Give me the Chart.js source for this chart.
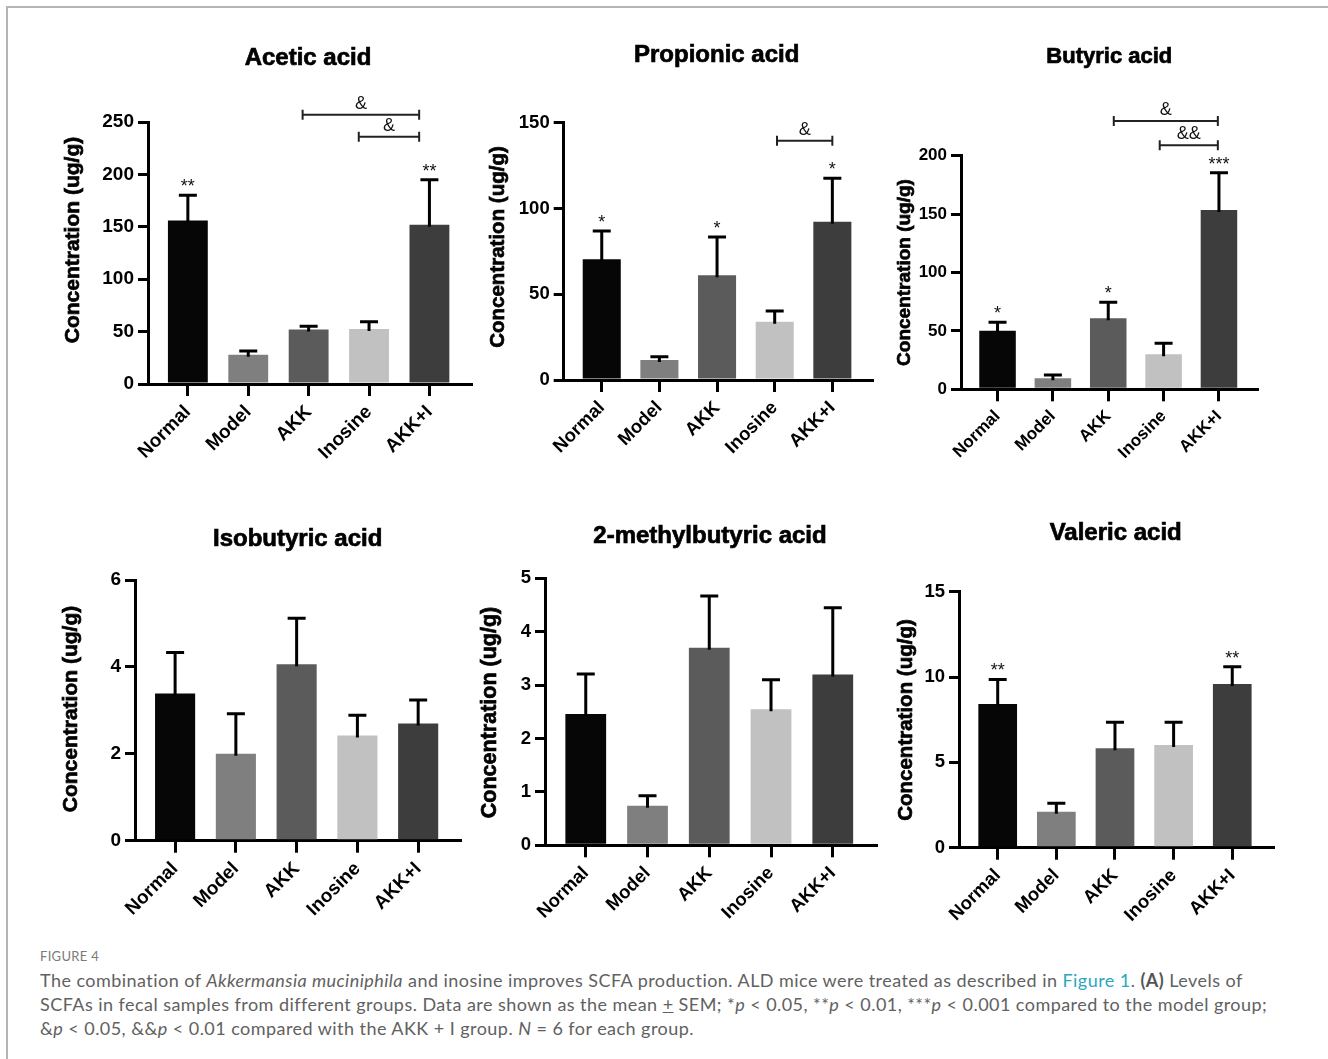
<!DOCTYPE html>
<html>
<head>
<meta charset="utf-8">
<title>SCFA production</title>
<script src="https://cdn.jsdelivr.net/npm/chart.js@4.4.1/dist/chart.umd.min.js"></script>
<style>
  html, body { margin: 0; padding: 0; background: #fff; }
  #figure { position: relative; width: 1328px; height: 1059px; overflow: hidden; }
  #frame { position: absolute; left: 6px; top: 6px; width: 1330px; height: 1060px;
           border-top: 2px solid #b4b4b4; border-left: 2px solid #b4b4b4; }
  canvas { position: absolute; }
  #figlabel { position: absolute; left: 40px; top: 948px; font-family: Lato, "Open Sans", sans-serif;
              font-size: 13px; color: #7a7a7a; letter-spacing: 0.3px; }
  #caption { position: absolute; left: 40px; top: 968px; font-family: Lato, "Open Sans", sans-serif;
             font-size: 18px; letter-spacing: 0.45px; line-height: 24px; color: #616161; white-space: nowrap; }
  #caption .link { color: #2ba7bd; }
  #caption b { color: #555; }
</style>
</head>
<body>
<div id="figure">
  <div id="frame"></div>
  <div id="figlabel">FIGURE 4</div>
  <div id="caption">The combination of <i>Akkermansia muciniphila</i> and inosine improves SCFA production. ALD mice were treated as described in <span class="link">Figure 1</span>. <b>(A)</b> Levels of<br>SCFAs in fecal samples from different groups. Data are shown as the mean <u>+</u> SEM; *<i>p</i> &lt; 0.05, **<i>p</i> &lt; 0.01, ***<i>p</i> &lt; 0.001 compared to the model group;<br>&amp;<i>p</i> &lt; 0.05, &amp;&amp;<i>p</i> &lt; 0.01 compared with the AKK + I group. <i>N</i> = 6 for each group.</div>
</div>
<script>
// groups on the x axis
var groups = ['Normal', 'Model', 'AKK', 'Inosine', 'AKK+I'];
var barColors = ['#060606', '#7f7f7f', '#5b5b5b', '#c1c1c1', '#3d3d3d'];

// mean and SEM (ug/g)
var aceticMean = [156, 28, 52, 52.5, 152];
var aceticSem = [24, 3.5, 3, 7, 43];
var aceticStars = ['**', '', '', '', '**'];
var aceticBrackets = [[1.9, 3.83, 257, '&'], [2.83, 3.83, 236, '&']];

var propionicMean = [70.4, 11.7, 61, 34, 92.3];
var propionicSem = [16.5, 1.9, 22.4, 6.2, 25.3];
var propionicStars = ['*', '', '*', '', '*'];
var propionicBrackets = [[3.04, 4.0, 139.5, '&']];

var butyricMean = [50.2, 9.4, 60.8, 30, 153.5];
var butyricSem = [7.2, 2.8, 13.7, 9.4, 32];
var butyricStars = ['*', '', '*', '', '***'];
var butyricBrackets = [[2.1, 3.98, 229.7, '&'], [2.93, 3.98, 208.9, '&&']];

var isobutyricMean = [3.39, 2.0, 4.06, 2.42, 2.70];
var isobutyricSem = [0.94, 0.92, 1.06, 0.47, 0.54];

var methylbutyricMean = [2.46, 0.74, 3.70, 2.55, 3.20];
var methylbutyricSem = [0.75, 0.19, 0.97, 0.55, 1.25];

var valericMean = [8.42, 2.11, 5.82, 6.02, 9.59];
var valericSem = [1.44, 0.49, 1.53, 1.33, 1.01];
var valericStars = ['**', '', '', '', '**'];

var FONT = '"Liberation Sans", Arial, Helvetica, sans-serif';
var yLabel = 'Concentration (ug/g)';

// panel layout (page pixels)
var panels = [
  { title: 'Acetic acid', mean: aceticMean, sem: aceticSem, stars: aceticStars, brackets: aceticBrackets,
    yMax: 250, step: 50, box: [10, 20, 466, 465], axisX: 148, axisEnd: 471.7, yTop: 122, yZero: 384,
    titlePos: [308, 58], titleSize: 24, yTitlePos: [73, 240], yTitleSize: 21, tickSize: 19 },
  { title: 'Propionic acid', mean: propionicMean, sem: propionicSem, stars: propionicStars, brackets: propionicBrackets,
    yMax: 150, step: 50, box: [476, 20, 414, 465], axisX: 563.7, axisEnd: 872.7, yTop: 122.7, yZero: 380,
    titlePos: [716.7, 55], titleSize: 24, yTitlePos: [498, 247], yTitleSize: 20.5, tickSize: 18.5 },
  { title: 'Butyric acid', mean: butyricMean, sem: butyricSem, stars: butyricStars, brackets: butyricBrackets,
    yMax: 200, step: 50, box: [890, 20, 430, 465], axisX: 961, axisEnd: 1257.7, yTop: 155.7, yZero: 389.3,
    titlePos: [1109.3, 57.3], titleSize: 22, yTitlePos: [905, 272.5], yTitleSize: 19, tickSize: 17 },
  { title: 'Isobutyric acid', mean: isobutyricMean, sem: isobutyricSem, stars: [], brackets: [],
    yMax: 6, step: 2, box: [10, 495, 466, 445], axisX: 135, axisEnd: 460.7, yTop: 580, yZero: 840.7,
    titlePos: [297.7, 539.3], titleSize: 24, yTitlePos: [71.7, 709], yTitleSize: 21, tickSize: 19 },
  { title: '2-methylbutyric acid', mean: methylbutyricMean, sem: methylbutyricSem, stars: [], brackets: [],
    yMax: 5, step: 1, box: [476, 495, 414, 445], axisX: 545, axisEnd: 876, yTop: 578.3, yZero: 845.3,
    titlePos: [710, 536.7], titleSize: 24, yTitlePos: [490, 712.5], yTitleSize: 21.5, tickSize: 18.5 },
  { title: 'Valeric acid', mean: valericMean, sem: valericSem, stars: valericStars, brackets: [],
    yMax: 15, step: 5, box: [890, 495, 430, 445], axisX: 959, axisEnd: 1273.3, yTop: 591.7, yZero: 847.7,
    titlePos: [1115.7, 533.3], titleSize: 24, yTitlePos: [906.7, 720], yTitleSize: 20.5, tickSize: 18.5 }
];

// bold text drawn a little heavier, like the GraphPad export
function heavyText(ctx, text, x, y) {
  ctx.lineWidth = 0.7;
  ctx.strokeStyle = '#000';
  ctx.strokeText(text, x, y);
  ctx.fillText(text, x, y);
}

// titles, error bars, stars and comparison brackets
function extrasPlugin(p) {
  var cl = p.box[0], ct = p.box[1];
  return {
    id: 'extras',
    afterDraw: function(chart) {
      var ctx = chart.ctx;
      var xs = chart.scales.x, ys = chart.scales.y;
      var bars = chart.getDatasetMeta(0).data;
      ctx.save();

      // panel title
      ctx.fillStyle = '#000';
      ctx.font = 'bold ' + p.titleSize + 'px ' + FONT;
      ctx.textAlign = 'center';
      ctx.textBaseline = 'middle';
      heavyText(ctx, p.title, p.titlePos[0] - cl, p.titlePos[1] - ct);

      // y axis title
      ctx.save();
      ctx.translate(p.yTitlePos[0] - cl, p.yTitlePos[1] - ct);
      ctx.rotate(-Math.PI / 2);
      ctx.font = 'bold ' + p.yTitleSize + 'px ' + FONT;
      heavyText(ctx, yLabel, 0, 0);
      ctx.restore();

      // error bars (upper only)
      ctx.strokeStyle = '#000';
      ctx.lineWidth = 3;
      for (var i = 0; i < bars.length; i++) {
        var x = bars[i].x;
        var yMean = ys.getPixelForValue(p.mean[i]);
        var yErr = ys.getPixelForValue(p.mean[i] + p.sem[i]);
        ctx.beginPath();
        ctx.moveTo(x, yMean + 2);
        ctx.lineTo(x, yErr);
        ctx.moveTo(x - 9, yErr);
        ctx.lineTo(x + 9, yErr);
        ctx.stroke();

        if (p.stars[i]) {
          ctx.font = '18px ' + FONT;
          ctx.textBaseline = 'alphabetic';
          ctx.fillStyle = '#111';
          ctx.fillText(p.stars[i], x, yErr - 3);
        }
      }

      // brackets
      ctx.lineWidth = 2;
      ctx.strokeStyle = '#222';
      p.brackets.forEach(function(b) {
        var x1 = xs.getPixelForValue(b[0]);
        var x2 = xs.getPixelForValue(b[1]);
        var y = ys.getPixelForValue(b[2]);
        ctx.beginPath();
        ctx.moveTo(x1, y); ctx.lineTo(x2, y);
        ctx.moveTo(x1, y - 5); ctx.lineTo(x1, y + 5);
        ctx.moveTo(x2, y - 5); ctx.lineTo(x2, y + 5);
        ctx.stroke();
        ctx.font = '18px ' + FONT;
        ctx.fillStyle = '#111';
        ctx.textBaseline = 'alphabetic';
        ctx.fillText(b[3], (x1 + x2) / 2, y - 6);
      });
      ctx.restore();
    }
  };
}

function makePanel(p) {
  var cl = p.box[0], ct = p.box[1], cw = p.box[2], ch = p.box[3];
  var canvas = document.createElement('canvas');
  canvas.width = cw;
  canvas.height = ch;
  canvas.style.left = cl + 'px';
  canvas.style.top = ct + 'px';
  document.getElementById('figure').appendChild(canvas);

  var points = p.mean.map(function(v, i) { return { x: i, y: v }; });

  new Chart(canvas.getContext('2d'), {
    type: 'bar',
    data: {
      datasets: [{
        data: points,
        backgroundColor: barColors,
        borderWidth: 0,
        barPercentage: 0.66,
        categoryPercentage: 1
      }]
    },
    options: {
      responsive: false,
      animation: false,
      layout: { padding: { top: p.yTop - ct, right: cl + cw - p.axisEnd, left: 0, bottom: 0 } },
      plugins: { legend: { display: false }, tooltip: { enabled: false } },
      scales: {
        x: {
          type: 'linear',
          min: -0.66,
          max: 4.7,
          offset: false,
          afterFit: function(s) { s.height = ct + ch - p.yZero; },
          afterBuildTicks: function(s) { s.ticks = groups.map(function(g, i) { return { value: i }; }); },
          ticks: {
            callback: function(v) { return groups[v]; },
            autoSkip: false, minRotation: 45, maxRotation: 45,
            color: '#000', padding: 5,
            font: { family: FONT, size: p.tickSize, weight: 'bold' }
          },
          grid: { offset: false, drawOnChartArea: false, color: '#000', lineWidth: 3, tickLength: 12 },
          border: { color: '#000', width: 3 }
        },
        y: {
          min: 0,
          max: p.yMax,
          afterFit: function(s) { s.width = p.axisX - cl; },
          ticks: {
            stepSize: p.step, color: '#000', padding: 4,
            font: { family: FONT, size: p.tickSize, weight: 'bold' }
          },
          grid: { drawOnChartArea: false, color: '#000', lineWidth: 3, tickLength: 10 },
          border: { color: '#000', width: 3 }
        }
      }
    },
    plugins: [extrasPlugin(p)]
  });
}

panels.forEach(makePanel);
</script>
</body>
</html>
